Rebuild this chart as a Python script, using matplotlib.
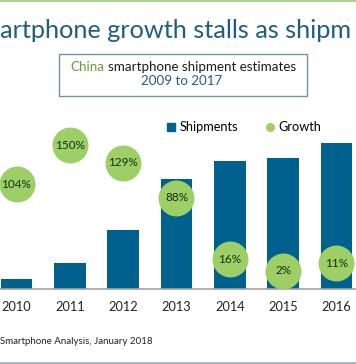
import matplotlib
matplotlib.use("Agg")
import matplotlib.pyplot as plt
from matplotlib.lines import Line2D
from matplotlib.patches import Rectangle

years = ["2010", "2011", "2012", "2013", "2014", "2015", "2016"]
shipments = [33, 82, 189, 353, 411, 418, 466]
growth = [104, 150, 129, 88, 16, 2, 11]
growth_labels = ["104%", "150%", "129%", "88%", "16%", "2%", "11%"]

BAR = "#00608e"
GREEN = "#9ccf65"
TITLE = "#1f5f7e"
plt.rcParams['font.family'] = ['Lato', 'DejaVu Sans']

W, H = 356, 364
fig = plt.figure(figsize=(W / 100, H / 100), dpi=100)

def fx(px):
    return px / W

def fy(py):
    return 1 - py / H

# axes geometry in pixels
step = 53.33
left_px = 16.5 - 0.5 * step
width_px = 7 * step
base_px = 289
top_px = 120
ax = fig.add_axes([fx(left_px), fy(base_px), width_px / W, (base_px - top_px) / H])
ax.set_xlim(-0.5, 6.5)
ax.set_ylim(0, (base_px - top_px) * 3.2)
xs = list(range(len(years)))
ax.bar(xs, shipments, width=0.59, color=BAR, zorder=2)
for s in ["top", "left", "right"]:
    ax.spines[s].set_visible(False)
ax.spines["bottom"].set_color("#a3a3a3")
ax.spines["bottom"].set_linewidth(1.2)
ax.set_yticks([])
ax.set_xticks(xs)
ax.set_xticklabels(years, fontsize=9.2, color="#222222")
ax.tick_params(axis="x", length=0, pad=8.5)
ax.patch.set_alpha(0)

ax2 = ax.twinx()
ax2.set_ylim(-19.2, 179.4)
ax2.set_yticks([])
for s in ax2.spines.values():
    s.set_visible(False)
ax2.scatter(xs, growth, s=670, color=GREEN, zorder=3, linewidths=0)
for x, g, lab in zip(xs, growth, growth_labels):
    ax2.text(x, g, lab, ha="center", va="center", fontsize=8.5, color="#1b2a18", zorder=4)

# legend
handles = [Line2D([], [], marker="s", linestyle="none", color=BAR, markersize=5.5),
           Line2D([], [], marker="o", linestyle="none", color=GREEN, markersize=5.5)]
fig.legend(handles, ["Shipments", "Growth"], loc="center", ncol=2,
           bbox_to_anchor=(fx(244), fy(127)), frameon=False, fontsize=9.2,
           handlelength=0.6, handletextpad=0.35, columnspacing=2.2)

# title
fig.text(fx(0), fy(30), "artphone growth stalls as shipm", ha="left", va="center",
         fontsize=18.2, color=TITLE)

# subtitle box
box = Rectangle((fx(59), fy(96)), fx(307) - fx(59), fy(54) - fy(96), transform=fig.transFigure,
                facecolor="white", edgecolor="#6f96a3", linewidth=1)
fig.patches.append(box)
t1 = fig.text(fx(70.7), fy(66.7), "China", ha="left", va="center", fontsize=9.6, color="#6a9a3c")
fig.canvas.draw()
bb = t1.get_window_extent()
fig.text(bb.x1 / W + fx(3), fy(66.7), "smartphone shipment estimates", ha="left", va="center",
         fontsize=9.6, color="#1a1a1a")
fig.text(fx(181.5), fy(81), "2009 to 2017", ha="center", va="center", fontsize=9.6, color=TITLE)

# source
fig.text(fx(0), fy(342), "Smartphone Analysis, January 2018", ha="left", va="center",
         fontsize=7, color="#222222")

# decorative lines
fig.add_artist(Line2D([0, 1], [fy(0.5), fy(0.5)], transform=fig.transFigure, color="#9cc97a", linewidth=1.2))
fig.add_artist(Line2D([0, 1], [fy(362.5), fy(362.5)], transform=fig.transFigure, color="#9aa9b0", linewidth=1.2))

fig.savefig("out.png", dpi=100)
